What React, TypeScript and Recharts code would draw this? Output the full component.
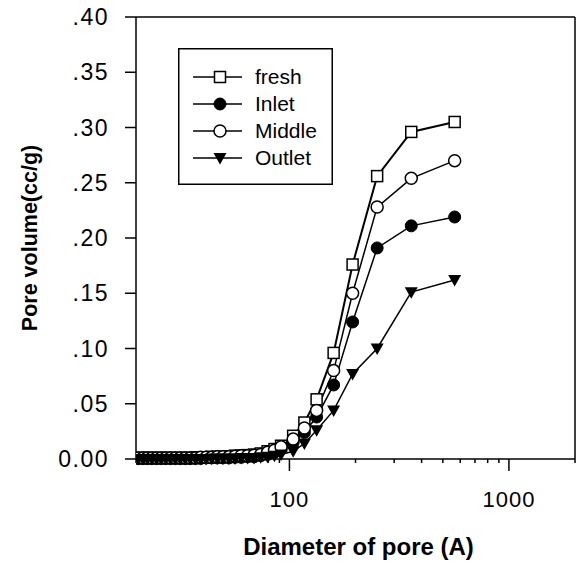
import React from 'react'
import {
  LineChart,
  Line,
  XAxis,
  YAxis,
  Legend,
  ReferenceLine,
} from 'recharts'

// pore diameters (A)
const diameters = [
  20.5, 21.5, 22.5, 23.6, 24.8, 26, 27.3, 28.7, 30.2, 31.8, 33.5, 35.3,
  37.3, 39.4, 41.7, 44.2, 46.9, 49.8, 53, 56.5, 60.3, 64.5, 69, 74, 79.5,
  85.5, 91.6, 104, 117, 133, 159, 194, 251, 359, 566,
]

const fresh = [
  0.001, 0.001, 0.001, 0.001, 0.001, 0.001, 0.001, 0.001, 0.001, 0.001, 0.001, 0.001,
  0.0015, 0.0015, 0.0015, 0.002, 0.002, 0.002, 0.0025, 0.003, 0.003, 0.0035, 0.004,
  0.005, 0.007, 0.009, 0.012, 0.021, 0.033, 0.054, 0.096, 0.176, 0.256, 0.296, 0.305,
]

const inlet = [
  0.0005, 0.0005, 0.0005, 0.0005, 0.0005, 0.0005, 0.0005, 0.0005, 0.0005, 0.0005, 0.0005, 0.0005,
  0.0005, 0.0005, 0.001, 0.001, 0.001, 0.001, 0.001, 0.0015, 0.0015, 0.002, 0.002,
  0.003, 0.004, 0.006, 0.009, 0.015, 0.024, 0.038, 0.067, 0.124, 0.191, 0.211, 0.219,
]

const middle = [
  0.001, 0.001, 0.001, 0.001, 0.001, 0.001, 0.001, 0.001, 0.001, 0.001, 0.001, 0.001,
  0.001, 0.0015, 0.0015, 0.0015, 0.002, 0.002, 0.002, 0.0025, 0.003, 0.003, 0.0035,
  0.004, 0.006, 0.008, 0.011, 0.018, 0.028, 0.044, 0.08, 0.15, 0.228, 0.254, 0.27,
]

const outlet = [
  0, 0, 0, 0, 0, 0, 0, 0, 0, 0, 0, 0,
  0, 0, 0, 0.0005, 0.0005, 0.0005, 0.0005, 0.0005, 0.001, 0.001, 0.001,
  0.0015, 0.002, 0.003, 0.004, 0.007, 0.014, 0.026, 0.044, 0.077, 0.1, 0.151, 0.162,
]

const xTicks = [20, 30, 40, 50, 60, 70, 80, 90, 100, 200, 300, 400, 500, 600, 700, 800, 900, 1000, 2000]
const xLabels = [100, 1000]
const yTicks = [0, 0.05, 0.1, 0.15, 0.2, 0.25, 0.3, 0.35, 0.4]

const data = diameters.map((d, i) => ({
  d,
  fresh: fresh[i],
  inlet: inlet[i],
  middle: middle[i],
  outlet: outlet[i],
}))

const FONT = '"Liberation Sans", Arial, sans-serif'

function SquareDot({ cx, cy }: any) {
  if (cx == null || cy == null) return null
  return <rect x={cx - 5.5} y={cy - 5.5} width={11} height={11} fill="#fff" stroke="#000" strokeWidth={1.5} />
}

function FilledDot({ cx, cy }: any) {
  if (cx == null || cy == null) return null
  return <circle cx={cx} cy={cy} r={6} fill="#000" stroke="#000" strokeWidth={1} />
}

function OpenDot({ cx, cy }: any) {
  if (cx == null || cy == null) return null
  return <circle cx={cx} cy={cy} r={6} fill="#fff" stroke="#000" strokeWidth={1.5} />
}

function TriangleDot({ cx, cy }: any) {
  if (cx == null || cy == null) return null
  return <path d={`M${cx - 6.5},${cy - 5} L${cx + 6.5},${cy - 5} L${cx},${cy + 6.5} Z`} fill="#000" />
}

function XTick({ x, y, payload }: any) {
  const major = xLabels.includes(payload.value)
  return (
    <g>
      <line x1={x} y1={y} x2={x} y2={y + (major ? 12 : 4)} stroke="#000" strokeWidth={1.5} />
      {major && (
        <text x={x} y={y + 48} textAnchor="middle" fontSize={22} letterSpacing={1} fontFamily={FONT} fill="#000">
          {payload.value}
        </text>
      )}
    </g>
  )
}

function YTitle({ viewBox }: any) {
  const cy = viewBox.y + viewBox.height / 2
  return (
    <text
      x={37}
      y={cy}
      transform={`rotate(-90 37 ${cy})`}
      textAnchor="middle"
      fontSize={21.5}
      fontWeight="bold"
      fontFamily={FONT}
      fill="#000"
    >
      Pore volume(cc/g)
    </text>
  )
}

function XTitle({ viewBox }: any) {
  const cx = viewBox.x + viewBox.width / 2
  return (
    <text x={cx + 3} y={555} textAnchor="middle" fontSize={24} fontWeight="bold" fontFamily={FONT} fill="#000">
      Diameter of pore (A)
    </text>
  )
}

const legendRows = [
  { name: 'fresh', Dot: SquareDot },
  { name: 'Inlet', Dot: FilledDot },
  { name: 'Middle', Dot: OpenDot },
  { name: 'Outlet', Dot: TriangleDot },
]

function ChartLegend() {
  return (
    <svg width={155} height={137} style={{ display: 'block' }}>
      <rect x={0.75} y={0.75} width={153.5} height={135.5} fill="#fff" stroke="#000" strokeWidth={1.5} />
      {legendRows.map((row, i) => {
        const cy = 29 + i * 27
        return (
          <g key={row.name}>
            <line x1={15} y1={cy} x2={64} y2={cy} stroke="#000" strokeWidth={1.5} />
            <row.Dot cx={42} cy={cy} />
            <text x={77} y={cy + 7} fontSize={21} fontFamily={FONT} fill="#000">
              {row.name}
            </text>
          </g>
        )
      })}
    </svg>
  )
}

export default function App() {
  return (
    <div style={{ position: 'absolute', left: 0, top: 0, width: 583, height: 565, background: '#fff' }}>
      <LineChart width={583} height={565} data={data} margin={{ top: 17, right: 8, left: 0, bottom: 0 }}>
        <XAxis
          dataKey="d"
          type="number"
          scale="log"
          domain={[20, 2000]}
          ticks={xTicks}
          interval={0}
          allowDataOverflow
          tick={<XTick />}
          tickLine={false}
          tickSize={0}
          tickMargin={0}
          height={106}
          axisLine={{ stroke: '#000', strokeWidth: 1.5 }}
          label={<XTitle />}
        />
        <YAxis
          type="number"
          domain={[0, 0.4]}
          ticks={yTicks}
          interval={0}
          width={136}
          tickSize={11}
          tickMargin={16}
          tickLine={{ stroke: '#000', strokeWidth: 1.5 }}
          axisLine={{ stroke: '#000', strokeWidth: 1.5 }}
          tick={{ fill: '#000', fontSize: 23, fontFamily: FONT, letterSpacing: 1.5 }}
          tickFormatter={(v: number) => (v === 0 ? '0.00' : v.toFixed(2).replace(/^0/, ''))}
          label={<YTitle />}
        />
        <ReferenceLine y={0.4} stroke="#000" strokeWidth={1.5} />
        <ReferenceLine x={2000} stroke="#000" strokeWidth={1.5} />
        <Legend
          layout="vertical"
          align="center"
          verticalAlign="middle"
          content={<ChartLegend />}
          wrapperStyle={{ position: 'absolute', left: 178, top: 48, width: 155, height: 137 }}
        />
        <Line dataKey="fresh" stroke="#000" strokeWidth={2} dot={<SquareDot />} isAnimationActive={false} />
        <Line dataKey="inlet" stroke="#000" strokeWidth={1.5} dot={<FilledDot />} isAnimationActive={false} />
        <Line dataKey="middle" stroke="#000" strokeWidth={1.5} dot={<OpenDot />} isAnimationActive={false} />
        <Line dataKey="outlet" stroke="#000" strokeWidth={1.5} dot={<TriangleDot />} isAnimationActive={false} />
      </LineChart>
    </div>
  )
}
